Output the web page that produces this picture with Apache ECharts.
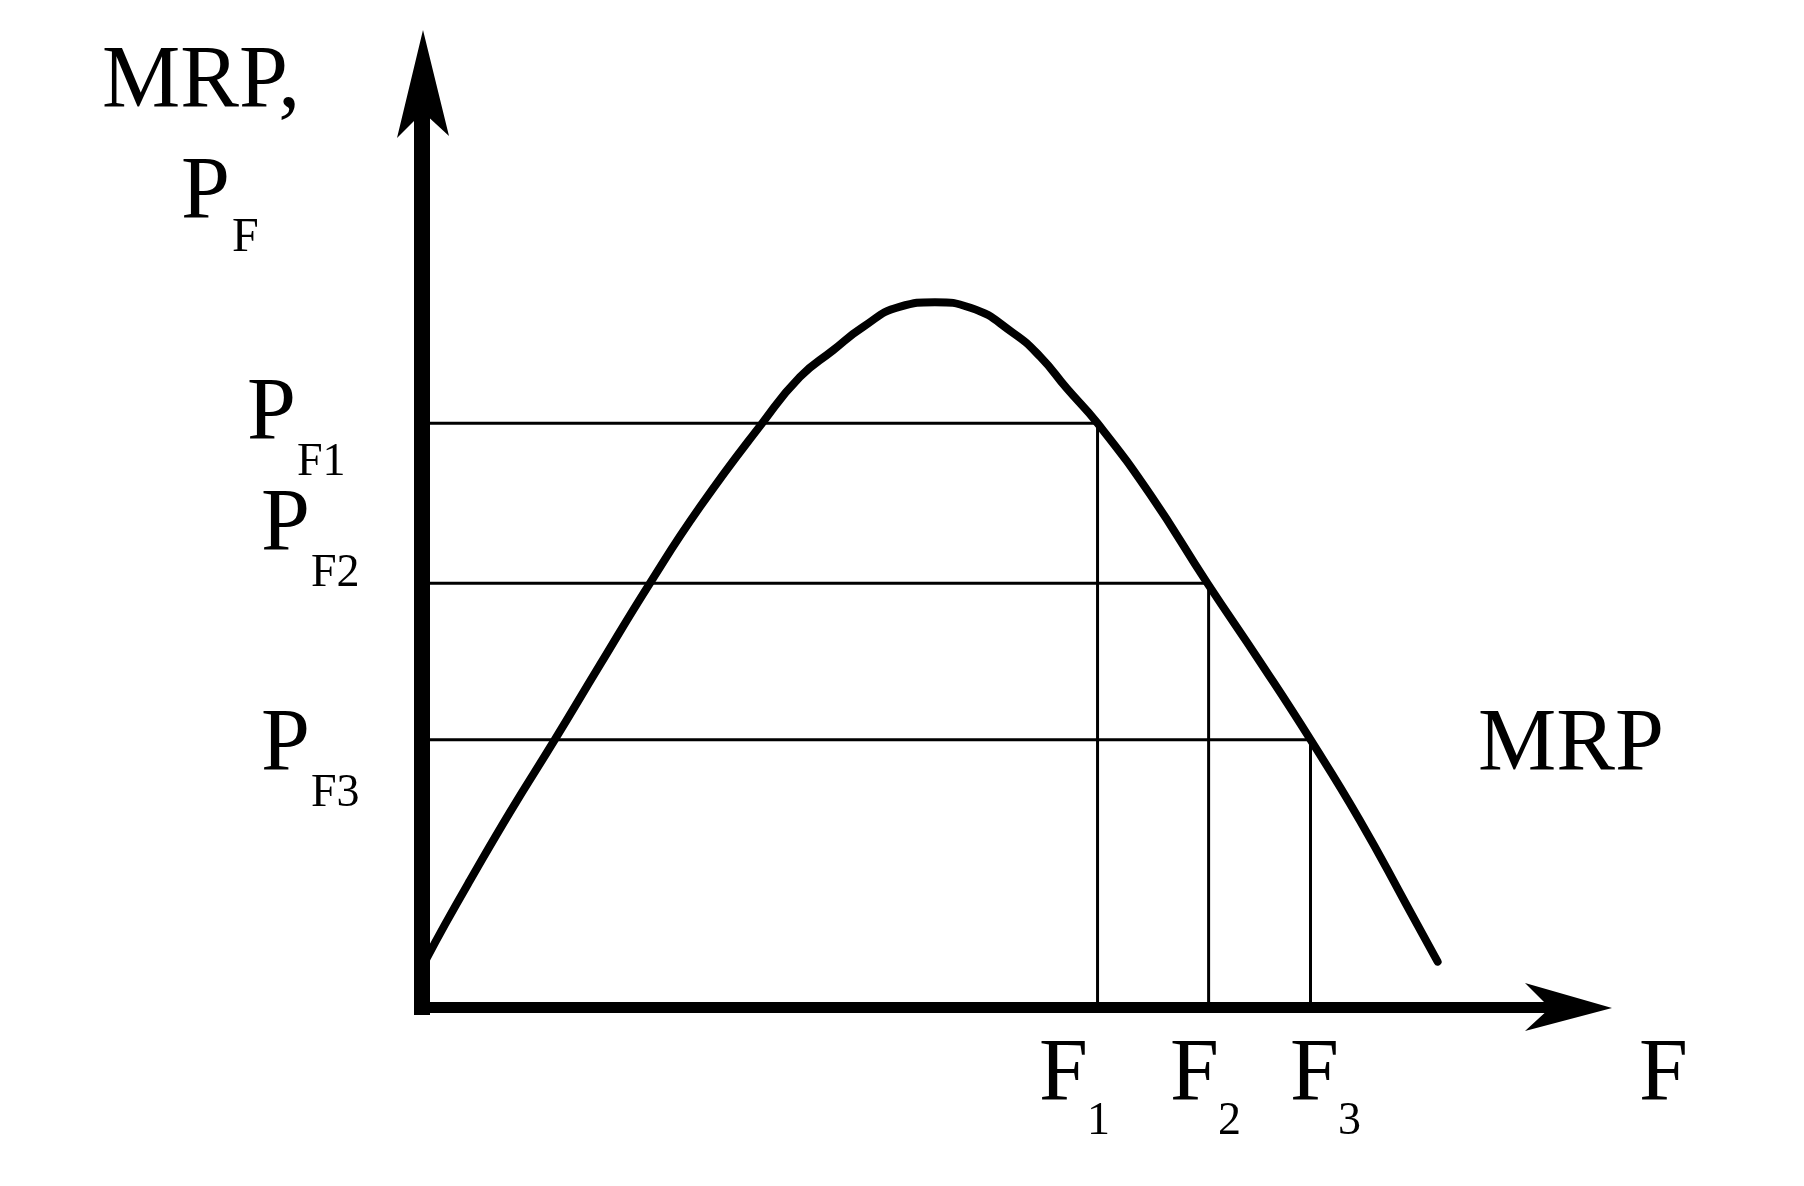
<!DOCTYPE html>
<html>
<head>
<meta charset="utf-8">
<script src="https://cdn.jsdelivr.net/npm/echarts@6/dist/echarts.min.js"></script>
<style>
  html, body { margin: 0; padding: 0; background: #fff; }
  #chart { width: 1804px; height: 1186px; }
</style>
</head>
<body>
<div id="chart"></div>
<script>
// ---- data ----
const curveX = [0.03, 0.20, 0.42, 0.77, 1.16, 1.55, 1.99, 2.43, 2.97, 3.30, 3.59, 3.85, 4.17, 4.48, 4.79, 5.16, 5.40, 5.63, 5.90, 6.36, 6.86, 7.32, 7.76, 8.19, 8.60, 8.87];
const curveY = [0.50, 0.89, 1.37, 2.11, 2.89, 3.69, 4.58, 5.41, 6.31, 6.81, 7.10, 7.35, 7.57, 7.62, 7.56, 7.29, 7.03, 6.69, 6.31, 5.54, 4.58, 3.73, 2.89, 2.02, 1.10, 0.49];
const factorQty = [5.90, 6.87, 7.76];      // F1, F2, F3
const factorPrice = [6.31, 4.58, 2.89];    // PF1, PF2, PF3
const qtySubs = ['1', '2', '3'];
const priceSubs = ['F1', 'F2', 'F3'];
const yAxisTitle = ['MRP,', 'P', 'F'];
const xAxisTitle = 'F';
const curveName = 'MRP';
const axisMax = 10;

// ---- build ----
const FONT = '"Liberation Serif", "Times New Roman", serif';
const curveData = curveX.map((x, i) => [x, curveY[i]]);

const series = [{
  type: 'line',
  name: curveName,
  data: curveData,
  smooth: 0.5,
  showSymbol: false,
  symbol: 'none',
  lineStyle: { color: '#000', width: 8, cap: 'round', join: 'round' },
  z: 5
}];
factorQty.forEach((f, i) => {
  series.push({
    type: 'line',
    data: [[0, factorPrice[i]], [f, factorPrice[i]], [f, 0]],
    showSymbol: false,
    symbol: 'none',
    lineStyle: { color: '#000', width: 3 },
    z: 3
  });
});
// arrow heads at the ends of the two axes
series.push({
  type: 'custom',
  data: [[axisMax, 0], [0, axisMax]],
  silent: true,
  z: 10,
  renderItem: function (params, api) {
    const e = api.coord([api.value(0), api.value(1)]);
    let pts;
    if (params.dataIndex === 0) {
      const tx = e[0] + 45, ty = e[1] + 1;
      pts = [[tx, ty], [tx - 87, ty - 25], [tx - 62, ty], [tx - 87, ty + 23]];
    } else {
      const tx = e[0] + 1, ty = e[1] - 52;
      pts = [[tx, ty], [tx - 26, ty + 108], [tx, ty + 82], [tx + 26, ty + 106]];
    }
    return { type: 'polygon', shape: { points: pts }, style: { fill: '#000' } };
  }
});

function txt(text, size, x, y) {
  return {
    type: 'text', x: x, y: y, silent: true,
    style: {
      text: text, font: size + 'px ' + FONT, fill: '#000',
      align: 'left', textAlign: 'left',
      verticalAlign: 'middle', textVerticalAlign: 'middle'
    }
  };
}

const BIG = 88, SMALL = 46;
const pLeft = [247, 261, 261], pMid = [415, 526, 746];
const fLeft = [1039, 1170, 1290];
const graphics = [
  txt(yAxisTitle[0], BIG, 102, 83),
  txt(yAxisTitle[1], BIG, 181, 194),
  txt(yAxisTitle[2], 48, 232, 238),
  txt(xAxisTitle, BIG, 1639, 1076),
  txt(curveName, BIG, 1478, 746)
];
priceSubs.forEach((s, i) => {
  graphics.push(txt('P', BIG, pLeft[i], pMid[i]));
  graphics.push(txt(s, SMALL, pLeft[i] + 50, pMid[i] + 48));
});
qtySubs.forEach((s, i) => {
  graphics.push(txt('F', BIG, fLeft[i], 1076));
  graphics.push(txt(s, SMALL, fLeft[i] + 48, 1122));
});

const option = {
  backgroundColor: '#fff',
  animation: false,
  grid: { left: 422, top: 82, right: 237, bottom: 179, containLabel: false },
  xAxis: {
    type: 'value', min: 0, max: axisMax,
    axisLine: { show: true, onZero: false,
      lineStyle: { color: '#000', width: 11, cap: 'square' } },
    axisTick: { show: false }, axisLabel: { show: false }, splitLine: { show: false }
  },
  yAxis: {
    type: 'value', min: 0, max: axisMax,
    axisLine: { show: true, onZero: false,
      lineStyle: { color: '#000', width: 16, cap: 'square' } },
    axisTick: { show: false }, axisLabel: { show: false }, splitLine: { show: false }
  },
  series: series,
  graphic: graphics
};

const chart = echarts.init(document.getElementById('chart'), null, { renderer: 'canvas' });
chart.setOption(option);
</script>
</body>
</html>
